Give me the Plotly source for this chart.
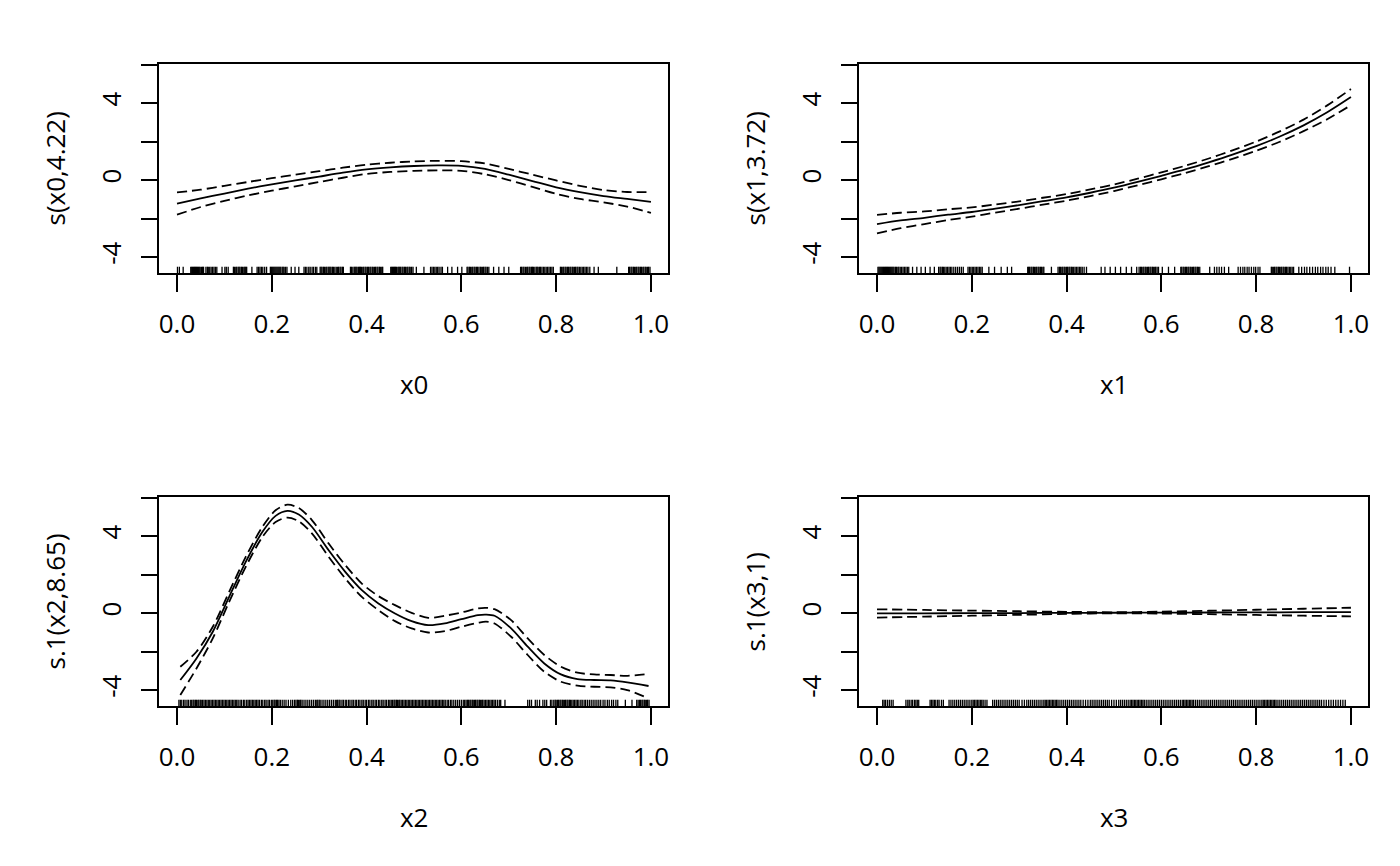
import plotly.graph_objects as go

# ---------------- data ----------------
X_GRID = [0.0, 0.05, 0.1, 0.15, 0.2, 0.25, 0.3, 0.35, 0.4, 0.45, 0.5,
          0.55, 0.6, 0.65, 0.7, 0.75, 0.8, 0.85, 0.9, 0.95, 1.0]

# panel 1: s(x0,4.22)
s0_fit = [-1.22, -0.95, -0.70, -0.45, -0.22, -0.02, 0.18, 0.38, 0.55, 0.66, 0.73,
          0.76, 0.74, 0.58, 0.28, -0.05, -0.38, -0.63, -0.83, -0.98, -1.13]
s0_upper = [-0.64, -0.50, -0.30, -0.10, 0.10, 0.28, 0.46, 0.64, 0.80, 0.90, 0.97,
            1.00, 0.98, 0.86, 0.58, 0.28, -0.02, -0.30, -0.52, -0.62, -0.62]
s0_lower = [-1.80, -1.40, -1.08, -0.80, -0.55, -0.33, -0.10, 0.12, 0.32, 0.42, 0.48,
            0.50, 0.48, 0.30, 0.00, -0.36, -0.72, -0.98, -1.16, -1.38, -1.70]

# panel 2: s(x1,3.72)
s1_fit = [-2.29, -2.10, -1.96, -1.80, -1.66, -1.48, -1.30, -1.10, -0.90, -0.66, -0.40,
          -0.10, 0.22, 0.55, 0.92, 1.32, 1.76, 2.26, 2.84, 3.52, 4.31]
s1_upper = [-1.81, -1.70, -1.63, -1.52, -1.42, -1.27, -1.11, -0.92, -0.73, -0.49, -0.23,
            0.07, 0.40, 0.74, 1.12, 1.54, 2.00, 2.53, 3.14, 3.88, 4.73]
s1_lower = [-2.77, -2.50, -2.29, -2.08, -1.90, -1.69, -1.49, -1.28, -1.07, -0.83, -0.57,
            -0.27, 0.04, 0.36, 0.72, 1.10, 1.52, 1.99, 2.54, 3.16, 3.89]

# panel 3: s.1(x2,8.65)
x2_grid = [0.007, 0.041, 0.0755, 0.11, 0.145, 0.18, 0.208, 0.233, 0.257, 0.285, 0.32,
           0.355, 0.39, 0.425, 0.46, 0.495, 0.53, 0.565, 0.6, 0.635, 0.652, 0.67,
           0.705, 0.74, 0.775, 0.81, 0.845, 0.88, 0.915, 0.95, 0.995]
s2_fit = [-3.48, -2.36, -0.97, 0.84, 2.66, 4.21, 5.05, 5.31, 5.12, 4.47, 3.26,
          2.14, 1.19, 0.50, -0.02, -0.42, -0.63, -0.54, -0.32, -0.11, -0.08, -0.14,
          -0.80, -1.75, -2.62, -3.19, -3.43, -3.48, -3.50, -3.60, -3.79]
s2_upper = [-2.79, -2.01, -0.71, 1.10, 2.92, 4.47, 5.34, 5.63, 5.46, 4.82, 3.61,
            2.49, 1.53, 0.88, 0.41, 0.01, -0.25, -0.14, 0.03, 0.24, 0.27, 0.20,
            -0.37, -1.32, -2.18, -2.79, -3.10, -3.19, -3.22, -3.26, -3.17]
s2_lower = [-4.26, -2.88, -1.32, 0.58, 2.40, 3.95, 4.73, 4.96, 4.77, 4.13, 2.92,
            1.80, 0.84, 0.15, -0.42, -0.80, -1.01, -0.94, -0.71, -0.51, -0.45, -0.54,
            -1.23, -2.18, -3.05, -3.57, -3.77, -3.83, -3.86, -4.00, -4.43]

# panel 4: s.1(x3,1)
x3_grid = [0.0, 0.1, 0.2, 0.3, 0.4, 0.5, 0.6, 0.7, 0.8, 0.9, 1.0]
s3_fit = [-0.020, -0.013, -0.006, 0.001, 0.008, 0.015, 0.022, 0.029, 0.036, 0.043, 0.050]
s3_upper = [0.195, 0.160, 0.126, 0.093, 0.063, 0.040, 0.072, 0.119, 0.171, 0.223, 0.275]
s3_lower = [-0.235, -0.186, -0.138, -0.091, -0.047, -0.010, -0.028, -0.061, -0.099, -0.137, -0.175]

# rug (observed covariate values)
rug_x0 = [0.001, 0.005, 0.013, 0.029, 0.033, 0.037, 0.041, 0.045, 0.049, 0.052, 0.056, 0.061,
          0.066, 0.072, 0.078, 0.084, 0.095, 0.101, 0.108, 0.119, 0.124, 0.129, 0.133, 0.138,
          0.143, 0.147, 0.158, 0.169, 0.175, 0.181, 0.189, 0.197, 0.201, 0.205, 0.209, 0.213,
          0.217, 0.222, 0.226, 0.232, 0.241, 0.249, 0.257, 0.268, 0.274, 0.281, 0.288, 0.295,
          0.302, 0.306, 0.311, 0.316, 0.321, 0.325, 0.330, 0.336, 0.341, 0.346, 0.351, 0.366,
          0.371, 0.376, 0.380, 0.385, 0.389, 0.394, 0.399, 0.404, 0.409, 0.414, 0.419, 0.424,
          0.429, 0.434, 0.451, 0.455, 0.459, 0.463, 0.468, 0.472, 0.477, 0.482, 0.487, 0.492,
          0.498, 0.505, 0.521, 0.535, 0.541, 0.547, 0.553, 0.560, 0.571, 0.580, 0.592, 0.601,
          0.612, 0.617, 0.622, 0.627, 0.632, 0.637, 0.642, 0.647, 0.652, 0.658, 0.668, 0.679,
          0.690, 0.700, 0.725, 0.730, 0.735, 0.740, 0.745, 0.750, 0.755, 0.760, 0.765, 0.770,
          0.776, 0.782, 0.788, 0.794, 0.809, 0.814, 0.819, 0.824, 0.829, 0.834, 0.839, 0.844,
          0.849, 0.855, 0.861, 0.867, 0.871, 0.880, 0.889, 0.928, 0.953, 0.958, 0.963, 0.968,
          0.973, 0.978, 0.983, 0.988, 0.993, 0.998,
          0.031, 0.035, 0.039, 0.043, 0.047, 0.054, 0.064, 0.069, 0.075, 0.081, 0.104, 0.121,
          0.126, 0.131, 0.136, 0.141, 0.145, 0.172, 0.178, 0.185, 0.199, 0.203, 0.207, 0.211,
          0.215, 0.219, 0.224, 0.229, 0.271, 0.278, 0.285, 0.292, 0.304, 0.309, 0.314, 0.319,
          0.323, 0.328, 0.333, 0.339, 0.344, 0.349, 0.368, 0.374, 0.378, 0.383, 0.387, 0.392,
          0.397, 0.402, 0.407, 0.412, 0.417, 0.422, 0.427, 0.432, 0.453, 0.457, 0.461, 0.466,
          0.470, 0.475, 0.480, 0.485, 0.490, 0.495, 0.538, 0.544, 0.550, 0.557, 0.614, 0.619,
          0.624, 0.629, 0.634, 0.640, 0.645, 0.650, 0.655, 0.727, 0.732, 0.738, 0.743, 0.748,
          0.752, 0.758, 0.762, 0.767, 0.773, 0.779, 0.785, 0.791, 0.811, 0.816, 0.821, 0.826,
          0.831, 0.836, 0.841, 0.846, 0.852, 0.858, 0.864, 0.955, 0.960, 0.965, 0.970, 0.975,
          0.980, 0.985, 0.990, 0.995]
rug_x1 = [0.002, 0.006, 0.010, 0.014, 0.018, 0.022, 0.026, 0.030, 0.034, 0.039, 0.044, 0.049,
          0.055, 0.061, 0.067, 0.075, 0.084, 0.093, 0.102, 0.112, 0.121, 0.130, 0.135, 0.140,
          0.146, 0.152, 0.158, 0.166, 0.174, 0.182, 0.192, 0.198, 0.204, 0.210, 0.216, 0.222,
          0.236, 0.248, 0.262, 0.275, 0.284, 0.318, 0.322, 0.327, 0.332, 0.337, 0.342, 0.347,
          0.352, 0.368, 0.382, 0.387, 0.392, 0.397, 0.402, 0.407, 0.412, 0.418, 0.424, 0.430,
          0.437, 0.442, 0.473, 0.481, 0.492, 0.503, 0.514, 0.526, 0.537, 0.548, 0.556, 0.561,
          0.566, 0.571, 0.576, 0.581, 0.586, 0.591, 0.602, 0.615, 0.628, 0.641, 0.646, 0.651,
          0.656, 0.661, 0.666, 0.671, 0.676, 0.681, 0.702, 0.712, 0.722, 0.733, 0.742, 0.762,
          0.772, 0.781, 0.790, 0.799, 0.808, 0.832, 0.837, 0.842, 0.847, 0.852, 0.857, 0.862,
          0.867, 0.873, 0.879, 0.890, 0.902, 0.913, 0.925, 0.936, 0.947, 0.958, 0.966, 0.997,
          0.004, 0.008, 0.012, 0.016, 0.020, 0.024, 0.028, 0.032, 0.036, 0.041, 0.046, 0.052,
          0.058, 0.064, 0.133, 0.138, 0.143, 0.149, 0.155, 0.162, 0.170, 0.178, 0.195, 0.201,
          0.207, 0.213, 0.219, 0.320, 0.325, 0.330, 0.335, 0.340, 0.345, 0.350, 0.385, 0.390,
          0.395, 0.400, 0.405, 0.410, 0.415, 0.421, 0.427, 0.433, 0.553, 0.558, 0.563, 0.568,
          0.573, 0.578, 0.583, 0.588, 0.594, 0.643, 0.648, 0.653, 0.658, 0.663, 0.668, 0.673,
          0.678, 0.834, 0.839, 0.844, 0.849, 0.854, 0.859, 0.864, 0.870, 0.876, 0.717, 0.727,
          0.767, 0.776, 0.785, 0.795, 0.804, 0.896, 0.907, 0.919, 0.930, 0.941, 0.952]
rug_x2 = [0.004, 0.010, 0.017, 0.024, 0.031, 0.036, 0.041, 0.046, 0.051, 0.057, 0.063, 0.069,
          0.075, 0.081, 0.087, 0.093, 0.099, 0.105, 0.111, 0.117, 0.123, 0.129, 0.136, 0.143,
          0.150, 0.156, 0.162, 0.168, 0.174, 0.181, 0.188, 0.195, 0.202, 0.207, 0.212, 0.218,
          0.226, 0.235, 0.244, 0.251, 0.256, 0.261, 0.268, 0.276, 0.284, 0.292, 0.297, 0.302,
          0.310, 0.318, 0.326, 0.334, 0.339, 0.344, 0.351, 0.358, 0.365, 0.372, 0.379, 0.386,
          0.393, 0.400, 0.407, 0.414, 0.421, 0.428, 0.435, 0.442, 0.449, 0.455, 0.460, 0.465,
          0.470, 0.476, 0.482, 0.488, 0.494, 0.500, 0.506, 0.512, 0.518, 0.524, 0.530, 0.536,
          0.542, 0.548, 0.554, 0.560, 0.566, 0.573, 0.580, 0.588, 0.596, 0.604, 0.610, 0.615,
          0.620, 0.625, 0.630, 0.635, 0.640, 0.645, 0.651, 0.657, 0.663, 0.669, 0.676, 0.683,
          0.692, 0.740, 0.748, 0.756, 0.765, 0.772, 0.780, 0.788, 0.795, 0.800, 0.805, 0.810,
          0.815, 0.820, 0.825, 0.830, 0.836, 0.842, 0.848, 0.855, 0.862, 0.870, 0.878, 0.886,
          0.894, 0.903, 0.912, 0.921, 0.930, 0.946, 0.960, 0.970, 0.976, 0.981, 0.986, 0.991,
          0.996,
          0.007, 0.014, 0.021, 0.028, 0.034, 0.039, 0.044, 0.049, 0.054, 0.060, 0.066, 0.072,
          0.078, 0.084, 0.090, 0.096, 0.102, 0.108, 0.114, 0.120, 0.126, 0.133, 0.140, 0.147,
          0.153, 0.159, 0.165, 0.171, 0.178, 0.185, 0.192, 0.199, 0.205, 0.210, 0.215, 0.222,
          0.230, 0.240, 0.248, 0.254, 0.259, 0.264, 0.272, 0.280, 0.288, 0.295, 0.300, 0.306,
          0.314, 0.322, 0.330, 0.337, 0.342, 0.348, 0.355, 0.362, 0.369, 0.376, 0.383, 0.390,
          0.397, 0.404, 0.411, 0.418, 0.425, 0.432, 0.439, 0.446, 0.452, 0.458, 0.463, 0.468,
          0.473, 0.479, 0.485, 0.491, 0.497, 0.503, 0.509, 0.515, 0.521, 0.527, 0.533, 0.539,
          0.545, 0.551, 0.557, 0.563, 0.570, 0.577, 0.584, 0.592, 0.600, 0.607, 0.613, 0.618,
          0.623, 0.628, 0.633, 0.638, 0.643, 0.648, 0.654, 0.660, 0.666, 0.672, 0.680, 0.744,
          0.760, 0.776, 0.791, 0.798, 0.803, 0.808, 0.813, 0.818, 0.823, 0.828, 0.833, 0.839,
          0.845, 0.852, 0.859, 0.866, 0.874, 0.882, 0.890, 0.899, 0.908, 0.917, 0.926, 0.973,
          0.978, 0.983, 0.988, 0.993]
rug_x3 = [0.012, 0.018, 0.026, 0.034, 0.061, 0.068, 0.075, 0.082, 0.088, 0.112, 0.118, 0.124,
          0.131, 0.140, 0.152, 0.160, 0.168, 0.176, 0.184, 0.192, 0.200, 0.206, 0.212, 0.218,
          0.224, 0.232, 0.244, 0.252, 0.260, 0.268, 0.276, 0.284, 0.292, 0.300, 0.311, 0.320,
          0.328, 0.336, 0.344, 0.352, 0.358, 0.364, 0.370, 0.376, 0.382, 0.390, 0.398, 0.406,
          0.414, 0.422, 0.430, 0.440, 0.450, 0.458, 0.466, 0.474, 0.482, 0.490, 0.500, 0.510,
          0.518, 0.526, 0.534, 0.540, 0.546, 0.552, 0.558, 0.564, 0.572, 0.580, 0.588, 0.596,
          0.604, 0.612, 0.620, 0.628, 0.636, 0.644, 0.650, 0.656, 0.662, 0.668, 0.676, 0.684,
          0.692, 0.700, 0.708, 0.716, 0.724, 0.732, 0.740, 0.748, 0.756, 0.764, 0.772, 0.780,
          0.788, 0.796, 0.804, 0.812, 0.818, 0.824, 0.830, 0.836, 0.842, 0.850, 0.858, 0.866,
          0.874, 0.882, 0.890, 0.898, 0.906, 0.914, 0.922, 0.930, 0.938, 0.948, 0.958, 0.968,
          0.978, 0.988,
          0.015, 0.022, 0.030, 0.065, 0.072, 0.079, 0.085, 0.115, 0.121, 0.128, 0.136, 0.156,
          0.164, 0.172, 0.180, 0.188, 0.196, 0.203, 0.209, 0.215, 0.221, 0.228, 0.248, 0.256,
          0.264, 0.272, 0.280, 0.288, 0.296, 0.306, 0.316, 0.324, 0.332, 0.340, 0.348, 0.355,
          0.361, 0.367, 0.373, 0.379, 0.386, 0.394, 0.402, 0.410, 0.418, 0.426, 0.435, 0.445,
          0.454, 0.462, 0.470, 0.478, 0.486, 0.495, 0.505, 0.514, 0.522, 0.530, 0.537, 0.543,
          0.549, 0.555, 0.561, 0.568, 0.576, 0.584, 0.592, 0.600, 0.608, 0.616, 0.624, 0.632,
          0.640, 0.647, 0.653, 0.659, 0.665, 0.672, 0.680, 0.688, 0.696, 0.704, 0.712, 0.720,
          0.728, 0.736, 0.744, 0.752, 0.760, 0.768, 0.776, 0.784, 0.792, 0.800, 0.808, 0.815,
          0.821, 0.827, 0.833, 0.839, 0.846, 0.854, 0.862, 0.870, 0.878, 0.886, 0.894, 0.902,
          0.910, 0.918, 0.926, 0.934, 0.943, 0.953, 0.963, 0.973, 0.983]

x_titles = ["x0", "x1", "x2", "x3"]
y_titles = ["s(x0,4.22)", "s(x1,3.72)", "s.1(x2,8.65)", "s.1(x3,1)"]

X_TICKS = [0.0, 0.2, 0.4, 0.6, 0.8, 1.0]
X_TICK_LABELS = ["0.0", "0.2", "0.4", "0.6", "0.8", "1.0"]
Y_TICKS = [-4, -2, 0, 2, 4, 6]
Y_TICK_LABELS = ["-4", "", "0", "", "4", ""]

# ---------------- layout constants ----------------
W, H = 1400, 866
X_RANGE = [-0.038, 1.036]
Y_RANGE = [-4.83, 6.03]
RUG_FRAC = 0.03
FONT = "Open Sans"
FS = 26
LW = 1.8

# box pixel positions (left, right, top, bottom)
boxes = [(159, 668, 64, 273), (859, 1368, 64, 273),
         (159, 668, 497, 706), (859, 1368, 497, 706)]

panels = [
    (X_GRID, s0_fit, s0_upper, s0_lower, rug_x0),
    (X_GRID, s1_fit, s1_upper, s1_lower, rug_x1),
    (x2_grid, s2_fit, s2_upper, s2_lower, rug_x2),
    (x3_grid, s3_fit, s3_upper, s3_lower, rug_x3),
]

fig = go.Figure()
annotations = []
layout_axes = {}

rug_top = Y_RANGE[0] + RUG_FRAC * (Y_RANGE[1] - Y_RANGE[0])

for i, (xg, fit, up, lo, rug) in enumerate(panels):
    n = i + 1
    xa = "x" if n == 1 else f"x{n}"
    ya = "y" if n == 1 else f"y{n}"
    # rug
    rx, ry = [], []
    for v in sorted(rug):
        rx += [v, v, None]
        ry += [Y_RANGE[0], rug_top, None]
    fig.add_trace(go.Scatter(x=rx, y=ry, mode="lines", xaxis=xa, yaxis=ya,
                             line=dict(color="black", width=1.3), hoverinfo="skip",
                             showlegend=False))
    for ys, dash in ((up, "10px,5px"), (lo, "10px,5px"), (fit, "solid")):
        fig.add_trace(go.Scatter(x=xg, y=ys, mode="lines", xaxis=xa, yaxis=ya,
                                 line=dict(color="black", width=LW, dash=dash,
                                           shape="spline", smoothing=0.8),
                                 showlegend=False, hoverinfo="skip"))
    l, r, t, b = boxes[i]
    xdom = [l / W, r / W]
    ydom = [1 - b / H, 1 - t / H]
    common = dict(showline=True, mirror=True, linecolor="black", linewidth=LW,
                  ticks="outside", tickcolor="black", tickwidth=LW,
                  showgrid=False, zeroline=False,
                  tickfont=dict(family=FONT, size=FS, color="black"))
    layout_axes["xaxis" if n == 1 else f"xaxis{n}"] = dict(
        domain=xdom, range=X_RANGE, anchor=ya, tickmode="array",
        tickvals=X_TICKS, ticktext=X_TICK_LABELS, ticklen=17,
        ticklabelstandoff=10, **common)
    layout_axes["yaxis" if n == 1 else f"yaxis{n}"] = dict(
        domain=ydom, range=Y_RANGE, anchor=xa, tickmode="array",
        tickvals=Y_TICKS, ticktext=Y_TICK_LABELS, ticklen=16, tickangle=-90,
        ticklabelstandoff=10, **common)
    # axis titles
    annotations.append(dict(text=x_titles[i], xref="paper", yref="paper",
                            x=(l + r) / 2 / W, y=1 - (b + 111) / H,
                            xanchor="center", yanchor="middle", showarrow=False,
                            font=dict(family=FONT, size=FS, color="black")))
    annotations.append(dict(text=y_titles[i], xref="paper", yref="paper",
                            x=(l - 105) / W, y=1 - (t + b) / 2 / H, textangle=-90,
                            xanchor="center", yanchor="middle", showarrow=False,
                            font=dict(family=FONT, size=FS, color="black")))

fig.update_layout(width=W, height=H, margin=dict(l=0, r=0, t=0, b=0),
                  paper_bgcolor="white", plot_bgcolor="white",
                  annotations=annotations, **layout_axes)

fig.write_html("out.html", config={"displayModeBar": False},
               post_script="document.body.style.margin='0';")
